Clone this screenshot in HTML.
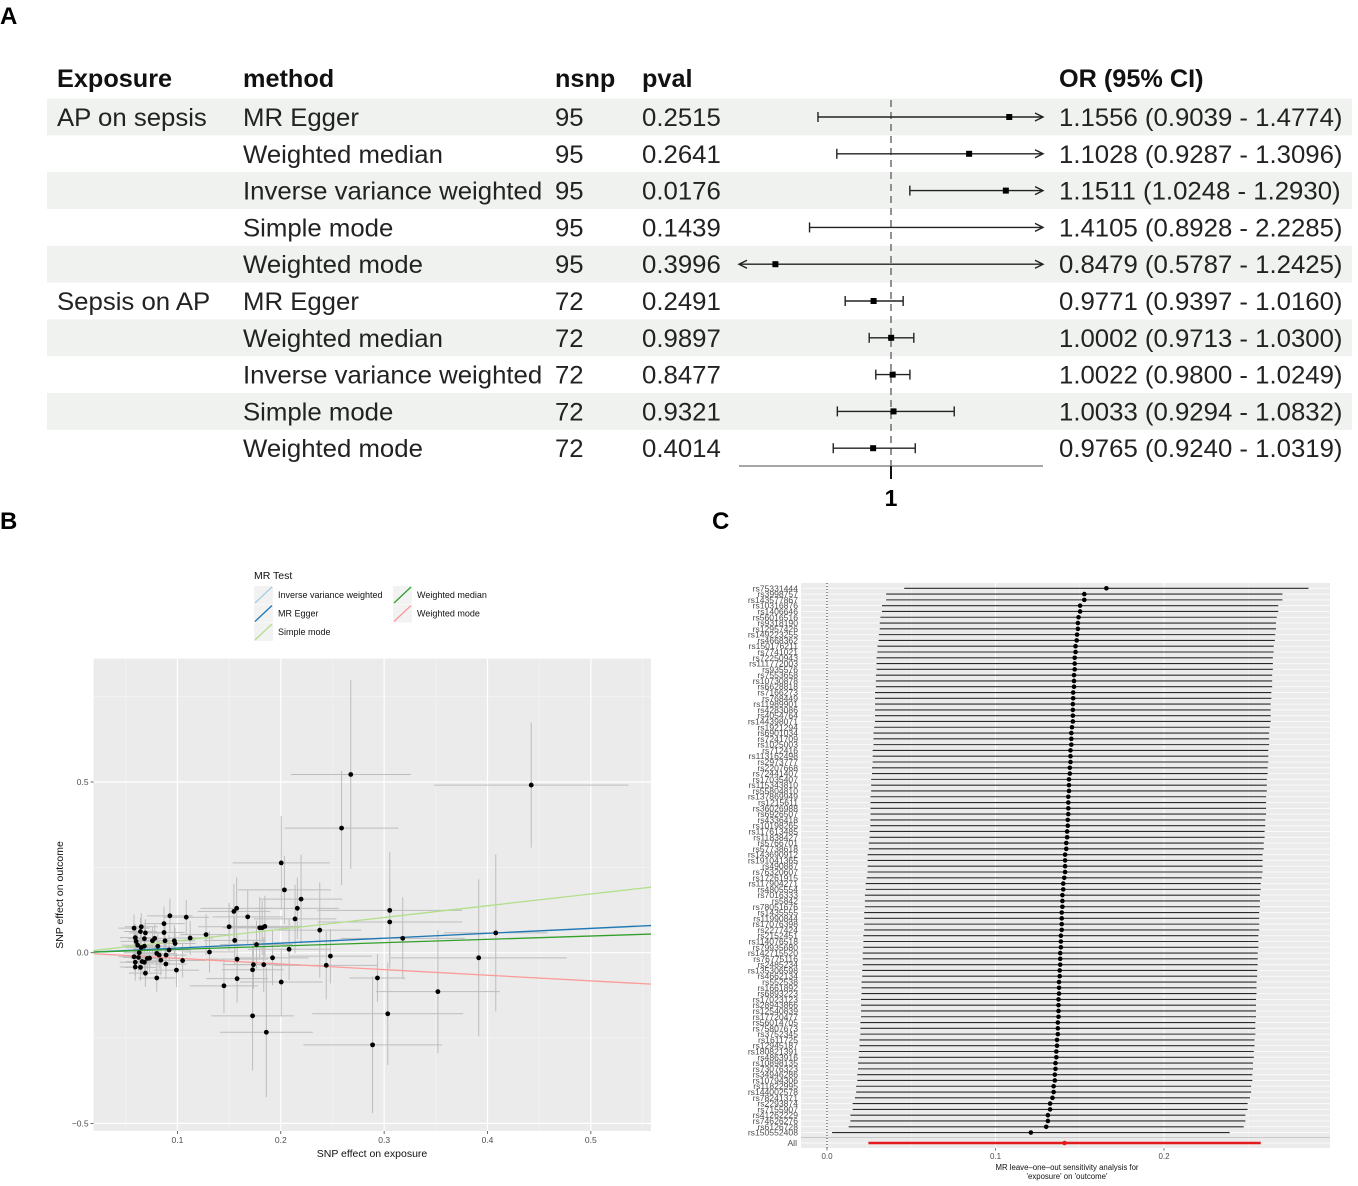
<!DOCTYPE html>
<html><head><meta charset="utf-8"><style>
html,body{margin:0;padding:0;background:#fff;}
svg{display:block;font-family:"Liberation Sans",Arial,sans-serif;}
</style></head>
<body>
<svg id="fig" width="1358" height="1186" viewBox="0 0 1358 1186" xmlns="http://www.w3.org/2000/svg">
<text x="0" y="24" font-size="24" font-weight="bold">A</text>
<text x="0" y="529" font-size="24" font-weight="bold">B</text>
<text x="712" y="529" font-size="24" font-weight="bold">C</text>
<g id="pa"></g>
<g id="pb"></g>
<g id="pc"></g>
</svg>
<script>
// ---------- Panel A data ----------
const exposures = ["AP on sepsis","","","","","Sepsis on AP","","","",""];
const methods = ["MR Egger","Weighted median","Inverse variance weighted","Simple mode","Weighted mode","MR Egger","Weighted median","Inverse variance weighted","Simple mode","Weighted mode"];
const nsnp = ["95","95","95","95","95","72","72","72","72","72"];
const pvals = ["0.2515","0.2641","0.0176","0.1439","0.3996","0.2491","0.9897","0.8477","0.9321","0.4014"];
const orVals = [1.1556,1.1028,1.1511,1.4105,0.8479,0.9771,1.0002,1.0022,1.0033,0.9765];
const orLo = [0.9039,0.9287,1.0248,0.8928,0.5787,0.9397,0.9713,0.9800,0.9294,0.9240];
const orHi = [1.4774,1.3096,1.2930,2.2285,1.2425,1.0160,1.0300,1.0249,1.0832,1.0319];

// ---------- Panel B data ----------
const exposureBeta = [0.2677,0.4423,0.2588,0.2004,0.2035,0.2196,0.3054,0.3054,0.216,0.2138,0.1546,0.1573,0.168,0.150,0.1796,0.1846,0.182,0.2377,0.318,0.408,0.3915,0.352,0.2935,0.3035,0.2888,0.186,0.1727,0.2004,0.1577,0.145,0.1727,0.1735,0.1835,0.192,0.1577,0.208,0.244,0.248,0.1765,0.1554,0.131,0.1277,0.1123,0.1085,0.0927,0.099,0.105,0.087,0.087,0.088,0.097,0.0977,0.080,0.0888,0.084,0.089,0.0919,0.081,0.080,0.0823,0.078,0.0758,0.069,0.068,0.065,0.0642,0.058,0.0592,0.060,0.0615,0.063,0.058,0.0592,0.0592,0.0642,0.069,0.068,0.0658,0.0708,0.073,0.0623,0.065,0.068];
const outcomeBeta = [0.522,0.491,0.365,0.263,0.184,0.157,0.124,0.090,0.130,0.099,0.121,0.130,0.105,0.076,0.073,0.077,0.073,0.066,0.042,0.058,-0.015,-0.114,-0.074,-0.179,-0.270,-0.233,-0.185,-0.086,-0.076,-0.097,-0.050,-0.035,-0.035,-0.015,-0.019,0.010,-0.037,-0.010,0.024,0.036,0.002,0.053,0.043,0.104,0.108,-0.051,-0.023,0.085,0.059,0.035,0.035,0.027,-0.074,-0.033,-0.022,-0.007,0.008,0.019,-0.002,-0.007,0.042,0.035,0.058,0.041,0.076,0.062,0.072,0.044,0.033,0.022,0.000,-0.012,-0.028,-0.042,-0.043,-0.060,-0.028,-0.026,-0.017,-0.016,-0.014,0.015,0.019];
const exposureCI = [0.058,0.094,0.055,0.047,0.045,0.040,0.070,0.070,0.040,0.040,0.035,0.035,0.034,0.030,0.036,0.036,0.036,0.040,0.060,0.050,0.085,0.060,0.027,0.073,0.067,0.045,0.040,0.040,0.030,0.033,0.030,0.030,0.035,0.035,0.030,0.040,0.050,0.040,0.035,0.030,0.025,0.025,0.022,0.022,0.022,0.022,0.022,0.020,0.020,0.020,0.020,0.020,0.018,0.020,0.020,0.020,0.020,0.018,0.018,0.018,0.018,0.018,0.016,0.016,0.016,0.016,0.015,0.015,0.015,0.015,0.015,0.015,0.015,0.015,0.015,0.016,0.016,0.016,0.016,0.016,0.015,0.015,0.016];
const outcomeCI = [0.276,0.183,0.167,0.137,0.100,0.130,0.170,0.120,0.090,0.100,0.080,0.090,0.080,0.070,0.090,0.090,0.080,0.140,0.120,0.230,0.230,0.180,0.070,0.150,0.200,0.190,0.160,0.100,0.070,0.080,0.070,0.070,0.080,0.080,0.070,0.090,0.100,0.080,0.070,0.070,0.060,0.060,0.050,0.050,0.050,0.050,0.050,0.050,0.050,0.045,0.045,0.045,0.040,0.045,0.045,0.045,0.045,0.040,0.040,0.040,0.040,0.040,0.040,0.040,0.040,0.040,0.040,0.040,0.040,0.040,0.040,0.040,0.040,0.040,0.040,0.040,0.040,0.040,0.040,0.040,0.040,0.040,0.040];
const lineMethods = ["Inverse variance weighted","MR Egger","Simple mode","Weighted median","Weighted mode"];
const lineSlopes = [0.1407,0.1446,0.3439,0.0978,-0.1650];
const lineIntercepts = [0,-0.001,0,0,0];
const lineColors = ["#a6cee3","#1f78b4","#b2df8a","#33a02c","#fb9a99"];
const bxTicks = [0.1,0.2,0.3,0.4,0.5];
const byTicks = [-0.5,0.0,0.5];

// ---------- Panel C data ----------
const snps = ["rs75331444","rs3998757","rs143577867","rs10316876","rs1406646","rs56016516","rs9318190","rs12957426","rs149223255","rs4668362","rs150176211","rs7741021","rs72250943","rs111772003","rs935576","rs7553658","rs10730878","rs6628818","rs7166273","rs768449","rs11989901","rs4283086","rs4054764","rs144398071","rs1921294","rs6901034","rs7241709","rs1025003","rs712416","rs113162498","rs2973777","rs2207668","rs72441407","rs17035407","rs115343810","rs55804810","rs137869949","rs1215611","rs36026988","rs6926507","rs4336418","rs10198265","rs117613485","rs11838427","rs5766701","rs57738618","rs143690912","rs191041365","rs490887","rs76320607","rs17261915","rs117904271","rs4805554","rs7016333","rs5842","rs78051676","rs1435555","rs11990844","rs17076398","rs2277424","rs2152451","rs114076518","rs79935680","rs142715520","rs76775116","rs2485234","rs135306598","rs4662134","rs552538","rs1661892","rs6893223","rs17023123","rs28943866","rs12540839","rs17720477","rs56014705","rs75807673","rs3752345","rs1611725","rs12945187","rs180821391","rs4863916","rs10898135","rs73076323","rs34946286","rs10794306","rs11822995","rs144002578","rs78241371","rs2293874","rs7155907","rs41262229","rs74626276","rs6126728","rs150552408"];
const looEst = [0.1658,0.1527,0.1527,0.1502,0.1502,0.1493,0.1489,0.1489,0.1484,0.1482,0.1475,0.1475,0.1470,0.1470,0.1470,0.1466,0.1466,0.1466,0.1461,0.1461,0.1459,0.1459,0.1459,0.1459,0.1454,0.1450,0.1450,0.1450,0.1445,0.1445,0.1445,0.1441,0.1441,0.1436,0.1436,0.1436,0.1432,0.1432,0.1432,0.1432,0.1429,0.1429,0.1425,0.1425,0.1420,0.1420,0.1413,0.1413,0.1413,0.1413,0.1408,0.1402,0.1402,0.1397,0.1397,0.1397,0.1393,0.1393,0.1393,0.1393,0.1388,0.1388,0.1388,0.1384,0.1384,0.1384,0.1381,0.1381,0.1377,0.1377,0.1377,0.1374,0.1374,0.1374,0.1374,0.1370,0.1370,0.1370,0.1365,0.1365,0.1361,0.1361,0.1356,0.1356,0.1352,0.1352,0.1345,0.1345,0.1338,0.1324,0.1324,0.1311,0.1311,0.1301,0.1210];
const looSe = [0.0612,0.0600,0.0600,0.0600,0.0600,0.0600,0.0600,0.0600,0.0600,0.0600,0.0600,0.0600,0.0600,0.0600,0.0600,0.0600,0.0600,0.0600,0.0600,0.0600,0.0599,0.0599,0.0599,0.0599,0.0599,0.0599,0.0599,0.0599,0.0599,0.0599,0.0599,0.0599,0.0599,0.0599,0.0599,0.0599,0.0599,0.0599,0.0599,0.0599,0.0598,0.0598,0.0598,0.0598,0.0598,0.0598,0.0598,0.0598,0.0598,0.0598,0.0598,0.0598,0.0598,0.0598,0.0598,0.0598,0.0598,0.0598,0.0598,0.0598,0.0598,0.0598,0.0598,0.0598,0.0598,0.0598,0.0598,0.0598,0.0598,0.0598,0.0598,0.0598,0.0598,0.0598,0.0598,0.0598,0.0598,0.0598,0.0598,0.0598,0.0598,0.0598,0.0598,0.0598,0.0598,0.0598,0.0598,0.0598,0.0598,0.0598,0.0598,0.0598,0.0598,0.0598,0.0602];
const allEst = 0.141;
const allSe = 0.0594;
const cxTicks = [0.0,0.1,0.2];
const cxTickLabels = ["0.0","0.1","0.2"];

const NS="http://www.w3.org/2000/svg";
function mk(parent,tag,attrs){const e=document.createElementNS(NS,tag);for(const k in attrs)e.setAttribute(k,attrs[k]);parent.appendChild(e);return e;}
function txt(parent,x,y,s,attrs){const e=mk(parent,"text",Object.assign({x:x,y:y},attrs));e.textContent=s;return e;}

// ================= Panel A =================
(function(){
const g=document.getElementById("pa");
const rowY=i=>117+i*36.8;
const fx=v=>891+(v-1)*760;
const axMin=0.8, axMax=1.2;
for(let i=0;i<10;i+=2){
  const r=mk(g,"rect",{x:47,y:rowY(i)-18.4,width:1305,height:36.8,fill:"#eff2ef"});
  
  
}
const hdr=[["Exposure",57],["method",243],["nsnp",555],["pval",642],["OR (95% CI)",1059]];
function fit(t,K){const L=t.getComputedTextLength();if(L>0){t.setAttribute("textLength",(L*K).toFixed(1));t.setAttribute("lengthAdjust","spacingAndGlyphs");}}
hdr.forEach(h=>{const t=txt(g,h[1],87,h[0],{"font-size":25,"font-weight":"bold",fill:"#111"});
  
  
  fit(t,1.01);});
for(let i=0;i<10;i++){
  const y=rowY(i)+9;
  const cols=[[exposures[i],57],[methods[i],243],[nsnp[i],555],[pvals[i],642],[orVals[i].toFixed(4)+" ("+orLo[i].toFixed(4)+" - "+orHi[i].toFixed(4)+")",1059]];
  cols.forEach(c=>{if(!c[0])return;const t=txt(g,c[1],y,c[0],{"font-size":25,fill:"#222"});
    
    
    fit(t,1.03);});
}
const rl=mk(g,"line",{x1:fx(1),x2:fx(1),y1:100,y2:470,stroke:"#777","stroke-width":1.6,"stroke-dasharray":"7,5"});


for(let i=0;i<10;i++){
  const y=rowY(i);
  const loC=Math.max(orLo[i],axMin), hiC=Math.min(orHi[i],axMax);
  const x1=fx(loC), x2=fx(hiC);
  const ci=mk(g,"line",{x1:x1,x2:x2,y1:y,y2:y,stroke:"#222","stroke-width":1.4});
  
  
  if(orLo[i]<axMin){mk(g,"path",{d:`M${x1+8},${y-4}L${x1},${y}L${x1+8},${y+4}`,fill:"none",stroke:"#222","stroke-width":1.4});}
  else mk(g,"line",{x1:x1,x2:x1,y1:y-5,y2:y+5,stroke:"#222","stroke-width":1.4});
  if(orHi[i]>axMax){mk(g,"path",{d:`M${x2-8},${y-4}L${x2},${y}L${x2-8},${y+4}`,fill:"none",stroke:"#222","stroke-width":1.4});}
  else mk(g,"line",{x1:x2,x2:x2,y1:y-5,y2:y+5,stroke:"#222","stroke-width":1.4});
  if(orVals[i]>=axMin&&orVals[i]<=axMax){
    const p=mk(g,"rect",{x:fx(orVals[i])-3,y:y-3,width:6,height:6,fill:"#000"});
    
    
  }
}
const ax=mk(g,"line",{x1:fx(axMin),x2:fx(axMax),y1:466,y2:466,stroke:"#888","stroke-width":1.4});


mk(g,"line",{x1:fx(1),x2:fx(1),y1:466,y2:479,stroke:"#111","stroke-width":2});
const t1=txt(g,fx(1),506,"1",{"font-size":23,"font-weight":"bold","text-anchor":"middle"});


})();

// ================= Panel B =================
(function(){
const g=document.getElementById("pb");
const L=93.6,R=651,T=658.6,B=1131;
const xs=v=>74.1+v*1033.5;
const ys=v=>952.7-v*341.4;
const bg=mk(g,"rect",{x:L,y:T,width:R-L,height:B-T,fill:"#ebebeb"});


[0.05,0.15,0.25,0.35,0.45,0.55].forEach(v=>mk(g,"line",{x1:xs(v),x2:xs(v),y1:T,y2:B,stroke:"#f5f5f5","stroke-width":0.6}));
[-0.25,0.25,0.75].forEach(v=>mk(g,"line",{x1:L,x2:R,y1:ys(v),y2:ys(v),stroke:"#f5f5f5","stroke-width":0.6}));
bxTicks.forEach(v=>{mk(g,"line",{x1:xs(v),x2:xs(v),y1:T,y2:B,stroke:"#fff","stroke-width":1.2});
  mk(g,"line",{x1:xs(v),x2:xs(v),y1:B,y2:B+3,stroke:"#444","stroke-width":0.8});
  const t=txt(g,xs(v),B+12,String(v),{"font-size":8.5,fill:"#4d4d4d","text-anchor":"middle"});
  
  });
byTicks.forEach(v=>{mk(g,"line",{x1:L,x2:R,y1:ys(v),y2:ys(v),stroke:"#fff","stroke-width":1.2});
  mk(g,"line",{x1:L-3,x2:L,y1:ys(v),y2:ys(v),stroke:"#444","stroke-width":0.8});
  const t=txt(g,L-5,ys(v)+3,v.toFixed(1).replace("-","\u2212"),{"font-size":8.5,fill:"#4d4d4d","text-anchor":"end"});
  
  });
const clip=mk(g,"clipPath",{id:"cpB"});mk(clip,"rect",{x:L,y:T,width:R-L,height:B-T});
const inner=mk(g,"g",{"clip-path":"url(#cpB)"});
for(let i=0;i<exposureBeta.length;i++){
  const x=exposureBeta[i],y=outcomeBeta[i];
  const h=mk(inner,"line",{x1:xs(x-exposureCI[i]),x2:xs(x+exposureCI[i]),y1:ys(y),y2:ys(y),stroke:"#bdbdbd","stroke-width":1});
  
  
  const v=mk(inner,"line",{x1:xs(x),x2:xs(x),y1:ys(y-outcomeCI[i]),y2:ys(y+outcomeCI[i]),stroke:"#bdbdbd","stroke-width":1});
  
  
}
const x0=0.0189,x1=0.561;
for(let k=0;k<lineSlopes.length;k++){
  const l=mk(inner,"line",{x1:xs(x0),x2:xs(x1),y1:ys(lineIntercepts[k]+lineSlopes[k]*x0),y2:ys(lineIntercepts[k]+lineSlopes[k]*x1),stroke:lineColors[k],"stroke-width":1.3});
  
  
}
for(let i=0;i<exposureBeta.length;i++){
  const c=mk(inner,"circle",{cx:xs(exposureBeta[i]),cy:ys(outcomeBeta[i]),r:2.4,fill:"#000"});
  
  
}
const xt=txt(g,372,1157,"SNP effect on exposure",{"font-size":10.5,"text-anchor":"middle",fill:"#111"});


const yt=txt(g,0,0,"SNP effect on outcome",{"font-size":10.5,"text-anchor":"middle",fill:"#111",transform:"translate(63,895) rotate(-90)"});


const lt=txt(g,254,579,"MR Test",{"font-size":10.5,fill:"#111"});


const pos=[[254,586],[254,604.5],[254,623],[393,586],[393,604.5]];
for(let k=0;k<lineMethods.length;k++){
  const [px,py]=pos[k];
  const e=mk(g,"g",{});
  
  
  mk(e,"rect",{x:px,y:py,width:19,height:18,fill:"#f2f2f2"});
  mk(e,"line",{x1:px+1,y1:py+17,x2:px+18,y2:py+1,stroke:lineColors[k],"stroke-width":1.3});
  txt(e,px+24,py+12,lineMethods[k],{"font-size":9,fill:"#111"});
}
})();

// ================= Panel C =================
(function(){
const g=document.getElementById("pc");
const L=801,R=1330,T=583,B=1148;
const xs=v=>827+v*1685;
const ys=i=>588.3+i*5.79;
const allY=1143;
const bg=mk(g,"rect",{x:L,y:T,width:R-L,height:B-T,fill:"#ebebeb"});


[0.05,0.15,0.25].forEach(v=>mk(g,"line",{x1:xs(v),x2:xs(v),y1:T,y2:B,stroke:"#f5f5f5","stroke-width":0.6}));
cxTicks.forEach(v=>mk(g,"line",{x1:xs(v),x2:xs(v),y1:T,y2:B,stroke:"#fff","stroke-width":1}));
for(let i=0;i<snps.length;i++){
  mk(g,"line",{x1:L,x2:R,y1:ys(i),y2:ys(i),stroke:"#fafafa","stroke-width":1});
}
mk(g,"line",{x1:L,x2:R,y1:allY,y2:allY,stroke:"#fafafa","stroke-width":1});
mk(g,"line",{x1:L,x2:R,y1:1137.5,y2:1137.5,stroke:"#bdbdbd","stroke-width":0.8});
mk(g,"line",{x1:xs(0),x2:xs(0),y1:T,y2:B,stroke:"#222","stroke-width":0.9,"stroke-dasharray":"1,2"});
for(let i=0;i<snps.length;i++){
  const y=ys(i),e=looEst[i],h=1.96*looSe[i];
  const l=mk(g,"line",{x1:xs(e-h),x2:xs(e+h),y1:y,y2:y,stroke:"#2a2a2a","stroke-width":1.1});
  
  
  const c=mk(g,"circle",{cx:xs(e),cy:y,r:2.3,fill:"#000"});
  
  
  const t=txt(g,798,y+3,snps[i],{"font-size":8.6,fill:"#4d4d4d","text-anchor":"end"});
  
  
}
const ah=1.96*allSe;
const al=mk(g,"line",{x1:xs(allEst-ah),x2:xs(allEst+ah),y1:allY,y2:allY,stroke:"#e41a1c","stroke-width":2.6});


const ac=mk(g,"circle",{cx:xs(allEst),cy:allY,r:2.3,fill:"#e41a1c"});


const at=txt(g,797,allY+3,"All",{"font-size":8.6,fill:"#4d4d4d","text-anchor":"end"});


cxTicks.forEach((v,k)=>{mk(g,"line",{x1:xs(v),x2:xs(v),y1:B,y2:B+2.5,stroke:"#444","stroke-width":0.7});
  const t=txt(g,xs(v),1159,cxTickLabels[k],{"font-size":8,fill:"#4d4d4d","text-anchor":"middle"});
  
  });
const t1=txt(g,1067,1170,"MR leave\u2013one\u2013out sensitivity analysis for",{"font-size":7.8,fill:"#111","text-anchor":"middle"});


const t2=txt(g,1067,1179,"'exposure' on 'outcome'",{"font-size":7.8,fill:"#111","text-anchor":"middle"});


})();
</script>
</body></html>
